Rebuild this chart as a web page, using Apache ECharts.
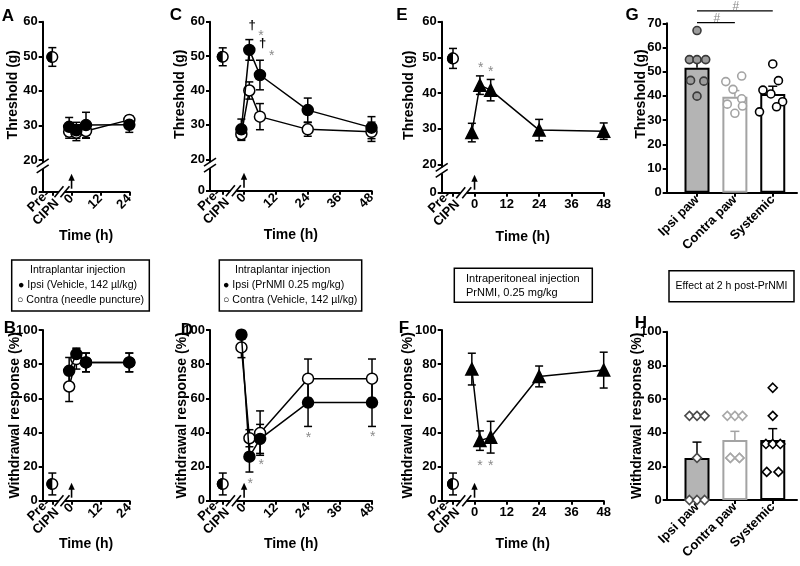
<!DOCTYPE html>
<html>
<head>
<meta charset="utf-8">
<script src="https://cdn.jsdelivr.net/npm/echarts@6.0.0/dist/echarts.min.js"></script>
<style>
html,body{margin:0;padding:0;background:#ffffff;}
#chart{width:800px;height:566px;}
</style>
</head>
<body>
<div id="chart"></div>
<script>
// ================= DATA =================
const PRE_T = -8;                 // position of the "Pre-CIPN" baseline on the time axis
const PRE_LABEL = 'Pre-\nCIPN';
const timeTicksShort = [0, 12, 24];
const timeTicksLong = [0, 12, 24, 36, 48];
const thresholdTicks = [20, 30, 40, 50, 60];
const responseTicks = [0, 20, 40, 60, 80, 100];
const gTicks = [0, 10, 20, 30, 40, 50, 60, 70];
const categories = ['Ipsi paw', 'Contra paw', 'Systemic'];

// Panel A (threshold, vehicle)
const timesA = [-1, 2, 6, 24];
const aIpsi = [29.6, 28.6, 30.1, 30.2];
const aIpsiErr = [2.7, 2.3, 3.7, 2.2];
const aContra = [28.2, 27.9, 28.4, 31.6];
const aContraErr = [1.9, 2.3, 2.1, 1.2];
const aPre = 49.8, aPreErr = 2.7;

// Panel C (threshold, intraplantar PrNMI)
const timesC = [-1, 2, 6, 24, 48];
const cIpsi = [28.7, 51.8, 44.5, 34.3, 29.2];
const cIpsiErr = [3.0, 3.0, 4.3, 3.5, 3.2];
const cContra = [27.3, 40.0, 32.4, 28.7, 28.0];
const cContraErr = [1.8, 2.5, 3.8, 2.0, 2.8];
const cPre = 49.8, cPreErr = 2.6;
const cMarks = [[3.1, 59.0, '†'], [6.4, 56.6, '*'], [7.0, 53.7, '†'], [10.4, 50.8, '*']];

// Panel E (threshold, intraperitoneal PrNMI)
const timesE = [-1, 2, 6, 24, 48];
const eVals = [28.9, 42.2, 40.8, 29.6, 29.3];
const eErr = [2.6, 2.6, 3.0, 3.0, 2.3];
const ePre = 49.7, ePreErr = 2.8;
const eMarks = [[2.3, 47.9, '*'], [6.0, 46.6, '*']];

// Panel B (withdrawal, vehicle)
const timesB = [-1, 2, 6, 24];
const bIpsi = [76.1, 85.9, 81.0, 81.0];
const bIpsiErr = [7.8, 3.5, 5.5, 5.5];
const bContra = [66.9, 83.0, 81.0, 81.0];
const bContraErr = [8.8, 5.9, 5.5, 5.5];
const bPre = 9.8, bPreErr = 6.4;

// Panel D (withdrawal, intraplantar PrNMI)
const timesD = [-1, 2, 6, 24, 48];
const dIpsi = [97.2, 25.8, 36.2, 57.5, 57.5];
const dIpsiErr = [2.5, 9.0, 8.5, 14.0, 14.0];
const dContra = [89.8, 36.6, 39.6, 71.5, 71.5];
const dContraErr = [6.0, 5.0, 13.0, 11.5, 11.5];
const dPre = 9.8, dPreErr = 6.4;
const dMarks = [[2.3, 11.2, '*'], [6.4, 22.3, '*'], [24.2, 38.6, '*'], [48.3, 39.1, '*']];

// Panel F (withdrawal, intraperitoneal PrNMI)
const timesF = [-1, 2, 6, 24, 48];
const fVals = [77.1, 35.2, 37.2, 72.8, 76.5];
const fErr = [9.3, 5.7, 9.3, 6.1, 10.5];
const fPre = 9.8, fPreErr = 6.4;
const fMarks = [[2.0, 21.9, '*'], [6.0, 21.9, '*']];

// Panel G (threshold at 2 h)
const gMeans = [51.6, 39.7, 40.8];
const gSem = [2.6, 2.5, 3.2];
const gIpsiPts = [67.0, 55.0, 55.0, 55.0, 46.4, 46.1, 39.9];
const gContraPts = [48.2, 45.9, 42.7, 38.8, 36.6, 35.8, 32.8];
const gSystemicPts = [53.2, 46.3, 42.4, 40.8, 37.6, 35.5, 33.4];
const gSig = [[1, 2, 70.25, '#'], [1, 3, 75.1, '#']];

// Panel H (withdrawal at 2 h)
const hMeans = [25.0, 35.7, 35.7];
const hSem = [9.4, 5.1, 6.7];
const hIpsiPts = [50, 50, 50, 25, 0, 0, 0];
const hContraPts = [50, 50, 50, 25, 25, 25, 25];
const hSystemicPts = [66.7, 50, 33.3, 33.3, 33.3, 16.7, 16.7];

// Legend / annotation texts
const box1Lines = ['Intraplantar injection', '● Ipsi (Vehicle, 142 µl/kg)', '○ Contra (needle puncture)'];
const box2Lines = ['Intraplantar injection', '● Ipsi (PrNMI 0.25 mg/kg)', '○ Contra (Vehicle, 142 µl/kg)'];
const box3Lines = ['Intraperitoneal injection', 'PrNMI, 0.25 mg/kg'];
const box4Lines = ['Effect at 2 h post-PrNMI'];
const panelLetters = ['A', 'C', 'E', 'G', 'B', 'D', 'F', 'H'];

// ================= STYLE / LAYOUT =================
const FONT = '"Liberation Sans", Arial, Helvetica, sans-serif';
const gJitter = [
  [0, -0.2, 0, 0.23, -0.17, 0.18, 0],
  [0.18, -0.24, -0.05, 0.18, -0.2, 0.2, 0],
  [0, 0.15, -0.26, -0.05, 0.26, 0.1, -0.35]
];
const hJitter = [
  [-0.2, 0, 0.2, 0, -0.2, 0, 0.2],
  [-0.2, 0, 0.2, -0.12, -0.12, 0.12, 0.12],
  [0, 0, -0.18, 0, 0.2, -0.16, 0.15]
];
const barFill = ['#b4b4b4', '#ffffff', '#ffffff'];
const barStroke = ['#000000', '#a3a3a3', '#000000'];
const ptFill = ['#9c9c9c', '#ffffff', '#ffffff'];
const ptStroke = ['#3a3a3a', '#a3a3a3', '#000000'];
const diaStroke = ['#4a4a4a', '#a8a8a8', '#000000'];

const grids = [
  {left: 42.7, top: 21.7, width: 86.6, height: 170},      // 0 A
  {left: 210, top: 21.7, width: 161.5, height: 169},      // 1 C
  {left: 441.7, top: 21.7, width: 162, height: 171},      // 2 E
  {left: 666.7, top: 23.3, width: 130.3, height: 169.4},  // 3 G
  {left: 42.7, top: 330, width: 86.6, height: 170.7},     // 4 B
  {left: 210, top: 330, width: 162, height: 170.7},       // 5 D
  {left: 441.7, top: 330, width: 162, height: 170.7},     // 6 F
  {left: 666.7, top: 331.7, width: 130.3, height: 168.3}  // 7 H
].map(g => Object.assign({containLabel: false, outerBoundsMode: 'none'}, g));

const xAxes = [], yAxes = [], series = [];

function nameStyle(extra) {
  return Object.assign({color: '#000', fontFamily: FONT, fontWeight: 'bold', fontSize: 14}, extra || {});
}
function tickOpt(vals) {
  return {show: true, length: 4, inside: false, customValues: vals, lineStyle: {color: '#000', width: 2}};
}
function labelOpt(vals, fmt, rot, margin) {
  return {show: true, customValues: vals, formatter: fmt, rotate: rot, margin: margin,
    color: '#000', fontFamily: FONT, fontWeight: 'bold', fontSize: 13, lineHeight: 13};
}
function axisBase(o) {
  return Object.assign({
    type: 'value',
    axisLine: {show: true, onZero: false, lineStyle: {color: '#000', width: 2}},
    splitLine: {show: false},
    nameMoveOverlap: false,
    silent: true
  }, o);
}
function addX(o) { xAxes.push(axisBase(o)); return xAxes.length - 1; }
function addY(o) { yAxes.push(axisBase(o)); return yAxes.length - 1; }

function timeX(gi, min, max, ticks, rotAll, gap) {
  const vals = rotAll ? [PRE_T].concat(ticks) : ticks;
  return addX({gridIndex: gi, position: 'bottom', min: min, max: max,
    axisTick: tickOpt(vals),
    axisLabel: labelOpt(vals, v => (v === PRE_T ? PRE_LABEL : String(v)), rotAll ? 45 : 0, 5),
    name: 'Time (h)', nameLocation: 'middle', nameGap: gap, nameTextStyle: nameStyle()});
}
function preX(gi, min, max) {
  return addX({gridIndex: gi, position: 'bottom', min: min, max: max,
    axisLine: {show: false},
    axisTick: tickOpt([PRE_T]),
    axisLabel: labelOpt([PRE_T], () => PRE_LABEL, 45, 5)});
}
function thresholdY(gi, min, gap) {
  const vals = [min].concat(thresholdTicks);
  return addY({gridIndex: gi, min: min, max: 60,
    axisTick: tickOpt(vals),
    axisLabel: labelOpt(vals, v => (v < 15 ? '0' : String(v)), 0, 5),
    name: 'Threshold (g)', nameLocation: 'middle', nameGap: gap,
    nameTextStyle: nameStyle({padding: [0, 0, 0, 24]})});
}
function responseY(gi, gap) {
  return addY({gridIndex: gi, min: 0, max: 100,
    axisTick: tickOpt(responseTicks),
    axisLabel: labelOpt(responseTicks, v => String(v), 0, 5),
    name: 'Withdrawal response (%)', nameLocation: 'middle', nameGap: gap,
    nameTextStyle: nameStyle()});
}
function catX(gi) {
  return addX({gridIndex: gi, position: 'bottom', min: 0.2, max: 3.64,
    axisTick: tickOpt([1, 2, 3]),
    axisLabel: labelOpt([1, 2, 3], v => categories[Math.round(v) - 1], 45, 5)});
}

// ---- render helpers ----
function errRender(colorFn, capW, upOnly) {
  return function (params, api) {
    const x = api.value(0), y = api.value(1), e = api.value(2);
    const top = api.coord([x, y + e]);
    const bot = api.coord([x, upOnly ? y : y - e]);
    const st = {stroke: colorFn(params.dataIndex), lineWidth: 1.5, fill: null};
    const ch = [
      {type: 'line', shape: {x1: top[0], y1: top[1], x2: bot[0], y2: bot[1]}, style: st},
      {type: 'line', shape: {x1: top[0] - capW, y1: top[1], x2: top[0] + capW, y2: top[1]}, style: st}
    ];
    if (!upOnly) ch.push({type: 'line', shape: {x1: bot[0] - capW, y1: bot[1], x2: bot[0] + capW, y2: bot[1]}, style: st});
    return {type: 'group', children: ch};
  };
}
const black = () => '#000';

function addErr(xi, yi, times, vals, errs) {
  series.push({type: 'custom', xAxisIndex: xi, yAxisIndex: yi, silent: true, clip: false, z: 2,
    renderItem: errRender(black, 4, false), encode: {x: 0, y: 1},
    data: times.map((t, i) => [t, vals[i], errs[i]])});
}
function addLine(xi, yi, times, vals, symbol, size, fill, z) {
  series.push({type: 'line', xAxisIndex: xi, yAxisIndex: yi, silent: true, z: z,
    data: times.map((t, i) => [t, vals[i]]),
    symbol: symbol, symbolSize: size, showSymbol: true,
    lineStyle: {color: '#000', width: 1.5},
    itemStyle: {color: fill, borderColor: '#000', borderWidth: 1.5},
    emphasis: {disabled: true}});
}
function addPre(xi, yi, val, err) {
  series.push({type: 'custom', xAxisIndex: xi, yAxisIndex: yi, silent: true, clip: false, z: 6,
    encode: {x: 0, y: 1}, data: [[PRE_T, val, err]],
    renderItem: function (params, api) {
      const x = api.value(0), y = api.value(1), e = api.value(2);
      const c = api.coord([x, y]), top = api.coord([x, y + e]), bot = api.coord([x, y - e]);
      const st = {stroke: '#000', lineWidth: 1.5, fill: null};
      const r = 5.3;
      return {type: 'group', children: [
        {type: 'line', shape: {x1: top[0], y1: top[1], x2: bot[0], y2: bot[1]}, style: st},
        {type: 'line', shape: {x1: top[0] - 4, y1: top[1], x2: top[0] + 4, y2: top[1]}, style: st},
        {type: 'line', shape: {x1: bot[0] - 4, y1: bot[1], x2: bot[0] + 4, y2: bot[1]}, style: st},
        {type: 'circle', shape: {cx: c[0], cy: c[1], r: r}, style: {fill: '#fff', stroke: '#000', lineWidth: 1.5}},
        {type: 'sector', shape: {cx: c[0], cy: c[1], r0: 0, r: r + 0.75, startAngle: Math.PI / 2, endAngle: Math.PI * 1.5, clockwise: true}, style: {fill: '#000'}}
      ]};
    }});
}
function addMarks(xi, yi, marks) {
  series.push({type: 'custom', xAxisIndex: xi, yAxisIndex: yi, silent: true, clip: false, z: 7,
    encode: {x: 0, y: 1}, data: marks.map(m => [m[0], m[1]]),
    renderItem: function (params, api) {
      const c = api.coord([api.value(0), api.value(1)]);
      const s = marks[params.dataIndex][2];
      const star = s === '*';
      return {type: 'text', x: c[0], y: c[1] + (star ? 3 : 0),
        style: {text: s, fill: star ? '#8a8a8a' : '#000', fontSize: star ? 14 : 13,
          fontFamily: FONT, fontWeight: star ? 'normal' : 'bold', align: 'center', verticalAlign: 'middle'}};
    }});
}

// ================= AXES =================
const xA = timeX(0, -12, 24, timeTicksShort, true, 37);
const yA = thresholdY(0, 10.832, 23);
const xC = timeX(1, -12.8, 48, timeTicksLong, true, 37);
const yC = thresholdY(1, 10.872, 23);
const xE = timeX(2, -12.2, 48, timeTicksLong, false, 37);
const xEp = preX(2, -12.2, 48);
const yE = thresholdY(2, 12.034, 26);
const xG = catX(3);
const yG = addY({gridIndex: 3, min: 0, max: 70,
  axisTick: tickOpt(gTicks), axisLabel: labelOpt(gTicks, v => String(v), 0, 5),
  name: 'Threshold (g)', nameLocation: 'middle', nameGap: 19,
  nameTextStyle: nameStyle({padding: [0, 0, 0, 28]})});
const xB = timeX(4, -12, 24, timeTicksShort, true, 36);
const yB = responseY(4, 21);
const xD = timeX(5, -12.8, 48, timeTicksLong, true, 36);
const yD = responseY(5, 21);
const xF = timeX(6, -12.2, 48, timeTicksLong, false, 36);
const xFp = preX(6, -12.2, 48);
const yF = responseY(6, 27);
const xH = catX(7);
const yH = responseY(7, 23);

// ================= SERIES =================
// A
addErr(xA, yA, timesA, aContra, aContraErr);
addErr(xA, yA, timesA, aIpsi, aIpsiErr);
addLine(xA, yA, timesA, aContra, 'circle', 11, '#fff', 3);
addLine(xA, yA, timesA, aIpsi, 'circle', 11, '#000', 4);
addPre(xA, yA, aPre, aPreErr);
// C
addErr(xC, yC, timesC, cContra, cContraErr);
addErr(xC, yC, timesC, cIpsi, cIpsiErr);
addLine(xC, yC, timesC, cContra, 'circle', 11, '#fff', 3);
addLine(xC, yC, timesC, cIpsi, 'circle', 11, '#000', 4);
addPre(xC, yC, cPre, cPreErr);
addMarks(xC, yC, cMarks);
// E
addErr(xE, yE, timesE, eVals, eErr);
addLine(xE, yE, timesE, eVals, 'triangle', 12, '#000', 4);
addPre(xE, yE, ePre, ePreErr);
addMarks(xE, yE, eMarks);
// B
addErr(xB, yB, timesB, bContra, bContraErr);
addErr(xB, yB, timesB, bIpsi, bIpsiErr);
addLine(xB, yB, timesB, bContra, 'circle', 11, '#fff', 3);
addLine(xB, yB, timesB, bIpsi, 'circle', 11, '#000', 4);
addPre(xB, yB, bPre, bPreErr);
// D
addErr(xD, yD, timesD, dContra, dContraErr);
addErr(xD, yD, timesD, dIpsi, dIpsiErr);
addLine(xD, yD, timesD, dContra, 'circle', 11, '#fff', 3);
addLine(xD, yD, timesD, dIpsi, 'circle', 11, '#000', 4);
addPre(xD, yD, dPre, dPreErr);
addMarks(xD, yD, dMarks);
// F
addErr(xF, yF, timesF, fVals, fErr);
addLine(xF, yF, timesF, fVals, 'triangle', 12, '#000', 4);
addPre(xF, yF, fPre, fPreErr);
addMarks(xF, yF, fMarks);

// G and H bars
function addBarPanel(xi, yi, means, sems, groups, jitter, symbol, size, fills, strokes) {
  series.push({type: 'bar', xAxisIndex: xi, yAxisIndex: yi, silent: true, barWidth: 25, z: 2,
    data: means.map((m, i) => ({value: [i + 1, m],
      itemStyle: {color: barFill[i], borderColor: barStroke[i], borderWidth: 2}}))});
  series.push({type: 'custom', xAxisIndex: xi, yAxisIndex: yi, silent: true, clip: false, z: 3,
    renderItem: errRender(i => barStroke[i], 4.5, true), encode: {x: 0, y: 1},
    data: means.map((m, i) => [i + 1, m, sems[i]])});
  groups.forEach((pts, k) => {
    series.push({type: 'scatter', xAxisIndex: xi, yAxisIndex: yi, silent: true, z: 5,
      symbol: symbol, symbolSize: size,
      itemStyle: {color: fills[k], borderColor: strokes[k], borderWidth: 1.6, opacity: 1},
      data: pts.map((v, j) => [k + 1 + jitter[k][j], v])});
  });
}
addBarPanel(xG, yG, gMeans, gSem, [gIpsiPts, gContraPts, gSystemicPts], gJitter, 'circle', 8, ptFill, ptStroke);
addBarPanel(xH, yH, hMeans, hSem, [hIpsiPts, hContraPts, hSystemicPts], hJitter, 'diamond', 9, ['#fff', '#fff', '#fff'], diaStroke);

const chart = echarts.init(document.getElementById('chart'), null, {renderer: 'canvas'});
chart.setOption({
  animation: false,
  backgroundColor: '#ffffff',
  textStyle: {fontFamily: FONT},
  grid: grids, xAxis: xAxes, yAxis: yAxes, series: series
});

// ================= DECORATIONS (positions derived from the axes) =================
const G = [];
function P(xi, yi, x, y) { return chart.convertToPixel({xAxisIndex: xi, yAxisIndex: yi}, [x, y]); }
const lineSt = {stroke: '#000', lineWidth: 1.6};

function arrow(xi, yi, ymin) {
  const p = P(xi, yi, 0, ymin);
  const x = p[0], y = p[1];
  G.push({type: 'line', z: 60, shape: {x1: x, y1: y - 3, x2: x, y2: y - 12}, style: lineSt});
  G.push({type: 'polygon', z: 60, shape: {points: [[x - 3.2, y - 11], [x + 3.2, y - 11], [x, y - 18]]}, style: {fill: '#000'}});
}
function xBreak(xi, yi, ymin) {
  const p = P(xi, yi, -4, ymin);
  const x = p[0], y = p[1];
  G.push({type: 'rect', z: 55, shape: {x: x - 3, y: y - 2, width: 6, height: 4}, style: {fill: '#fff'}});
  [-3, 3].forEach(d => G.push({type: 'line', z: 60, shape: {x1: x + d - 4.5, y1: y + 5.5, x2: x + d + 4.5, y2: y - 5.5}, style: lineSt}));
}
function yBreak(xi, yi, xmin) {
  const p = P(xi, yi, xmin, 18.3);
  const x = p[0], y = p[1];
  G.push({type: 'rect', z: 55, shape: {x: x - 2, y: y - 3, width: 4, height: 6}, style: {fill: '#fff'}});
  [-3, 3].forEach(d => G.push({type: 'line', z: 60, shape: {x1: x - 6, y1: y + d + 4, x2: x + 6, y2: y + d - 4}, style: lineSt}));
}
// top row
[[xA, yA, 10.832, -12], [xC, yC, 10.872, -12.8], [xE, yE, 12.034, -12.2]].forEach(a => {
  arrow(a[0], a[1], a[2]); xBreak(a[0], a[1], a[2]); yBreak(a[0], a[1], a[3]);
});
// bottom row
[[xB, yB], [xD, yD], [xF, yF]].forEach(a => { arrow(a[0], a[1], 0); xBreak(a[0], a[1], 0); });

// significance bars in G
gSig.forEach(s => {
  const p1 = P(xG, yG, s[0], s[2]), p2 = P(xG, yG, s[1], s[2]);
  G.push({type: 'line', z: 60, shape: {x1: p1[0], y1: p1[1], x2: p2[0], y2: p2[1]}, style: {stroke: '#000', lineWidth: 1.3}});
  G.push({type: 'text', z: 60, x: (p1[0] + p2[0]) / 2 + 1, y: p1[1] - 4,
    style: {text: s[3], fill: '#8a8a8a', fontSize: 12, fontFamily: FONT, align: 'center', verticalAlign: 'middle'}});
});

// panel letters
const letterPos = [[8, 16], [176, 15], [402, 15], [632, 15], [10, 328], [187, 330], [404, 328], [641, 323]];
panelLetters.forEach((L, i) => {
  G.push({type: 'text', z: 60, x: letterPos[i][0], y: letterPos[i][1],
    style: {text: L, fill: '#000', fontSize: 17, fontWeight: 'bold', fontFamily: FONT, align: 'center', verticalAlign: 'middle'}});
});

// legend boxes
function box(x, y, w, h, lines, xs, ys, fs, align) {
  G.push({type: 'rect', z: 60, shape: {x: x, y: y, width: w, height: h}, style: {fill: 'none', stroke: '#000', lineWidth: 1.5}});
  lines.forEach((t, i) => G.push({type: 'text', z: 60, x: xs[i], y: ys[i],
    style: {text: t, fill: '#000', fontSize: fs, fontFamily: FONT, align: align || 'left', verticalAlign: 'middle'}}));
}
box(11.7, 260, 137.6, 51, box1Lines, [30, 18, 17], [270.5, 285.5, 300.5], 10.6);
box(219.3, 260, 142.4, 51, box2Lines, [235, 223, 223], [270.5, 285.5, 300.5], 10.6);
box(454.3, 268.3, 138, 34, box3Lines, [466, 466], [279.3, 293.3], 11);
box(669, 270.7, 125, 31, box4Lines, [731.5], [286], 10.5, 'center');

chart.setOption({graphic: G});
</script>
</body>
</html>
